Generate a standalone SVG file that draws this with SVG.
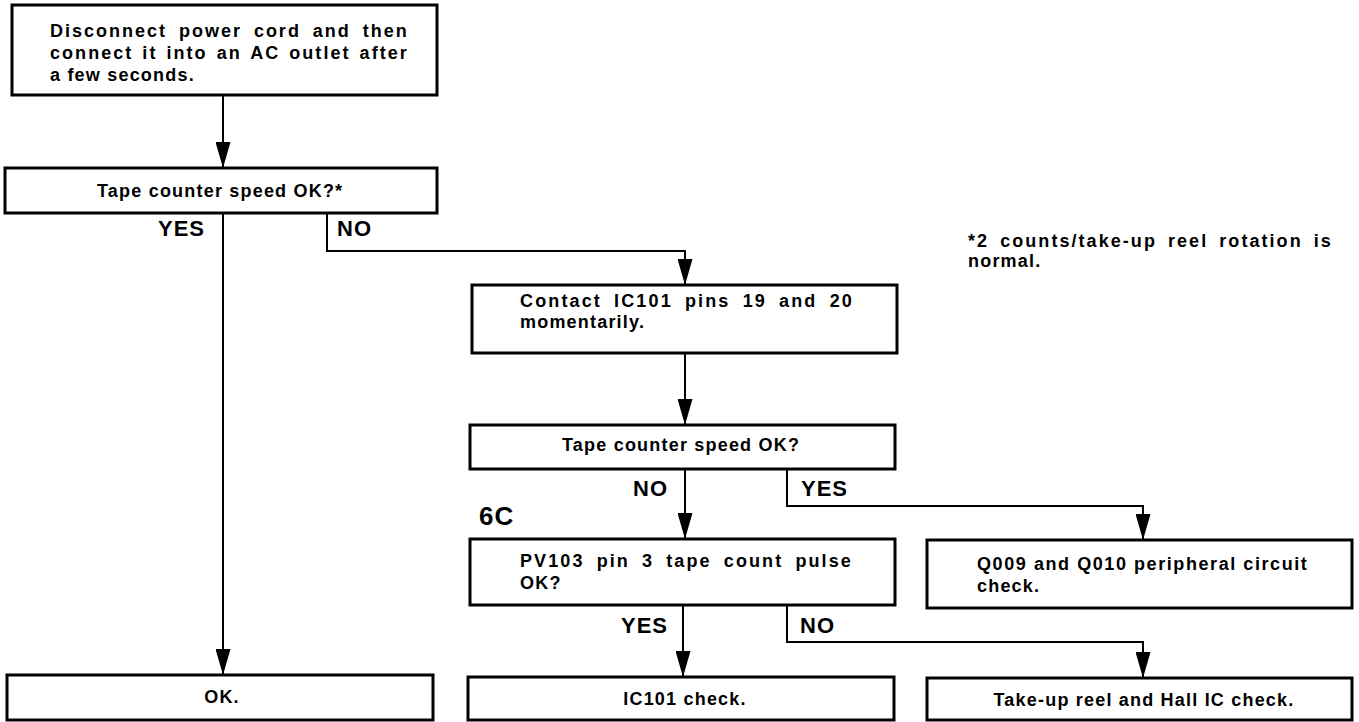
<svg xmlns="http://www.w3.org/2000/svg" width="1359" height="722" viewBox="0 0 1359 722">
  <style>
    .box { fill: #fff; stroke: #000; stroke-width: 3; }
    .wire { fill: none; stroke: #000; stroke-width: 2; }
    text { font-family: "Liberation Sans", Arial, sans-serif; font-weight: bold; fill: #000; }
    .t { font-size: 18px; letter-spacing: 1.2px; }
    .lbl { font-size: 22px; letter-spacing: 1px; }
    .ref { font-size: 26px; letter-spacing: 1px; }
  </style>
  <defs>
    <marker id="arrow" viewBox="0 0 26 15" markerUnits="userSpaceOnUse" markerWidth="26" markerHeight="15" refX="26" refY="7.5" orient="auto">
      <path d="M0,0 L26,7.5 L0,15 Z" fill="#000"/>
    </marker>
  </defs>
  <rect width="1359" height="722" fill="#fff"/>

  <!-- connectors -->
  <g id="connectors">
    <path class="wire" d="M223,95 V168" marker-end="url(#arrow)"/>
    <path class="wire" d="M223,213 V675" marker-end="url(#arrow)"/>
    <path class="wire" d="M327,213 V251 H685 V285" marker-end="url(#arrow)"/>
    <path class="wire" d="M685,353 V425" marker-end="url(#arrow)"/>
    <path class="wire" d="M685,469 V539" marker-end="url(#arrow)"/>
    <path class="wire" d="M787,469 V506 H1143 V540" marker-end="url(#arrow)"/>
    <path class="wire" d="M683,605 V677" marker-end="url(#arrow)"/>
    <path class="wire" d="M787,605 V642 H1143 V678" marker-end="url(#arrow)"/>
  </g>

  <!-- branch labels -->
  <g id="labels">
    <text class="lbl" x="205" y="236" text-anchor="end">YES</text>
    <text class="lbl" x="337" y="236">NO</text>
    <text class="lbl" x="668" y="496" text-anchor="end">NO</text>
    <text class="lbl" x="801" y="496">YES</text>
    <text class="ref" x="479" y="525">6C</text>
    <text class="lbl" x="668" y="633" text-anchor="end">YES</text>
    <text class="lbl" x="800" y="633">NO</text>
  </g>

  <g id="n-reconnect">
    <rect class="box" x="12" y="5" width="425" height="90"/>
    <text class="t" x="50" y="37" word-spacing="5" textLength="358" lengthAdjust="spacing">Disconnect power cord and then</text>
    <text class="t" x="50" y="59" word-spacing="2" textLength="358" lengthAdjust="spacing">connect it into an AC outlet after</text>
    <text class="t" x="50" y="81">a few seconds.</text>
  </g>

  <g id="n-speed1">
    <rect class="box" x="5" y="168" width="432" height="45"/>
    <text class="t" x="97" y="197">Tape counter speed OK?*</text>
  </g>

  <g id="n-contact">
    <rect class="box" x="472" y="285" width="425" height="68"/>
    <text class="t" x="520" y="307" word-spacing="5" textLength="333" lengthAdjust="spacing">Contact IC101 pins 19 and 20</text>
    <text class="t" x="520" y="328">momentarily.</text>
  </g>

  <g id="n-speed2">
    <rect class="box" x="470" y="425" width="425" height="44"/>
    <text class="t" x="562" y="451">Tape counter speed OK?</text>
  </g>

  <g id="n-pulse">
    <rect class="box" x="470" y="539" width="425" height="66"/>
    <text class="t" x="520" y="567" word-spacing="5" textLength="332" lengthAdjust="spacing">PV103 pin 3 tape count pulse</text>
    <text class="t" x="520" y="589">OK?</text>
  </g>

  <g id="n-q009">
    <rect class="box" x="927" y="540" width="425" height="68"/>
    <text class="t" x="977" y="570" textLength="331" lengthAdjust="spacing">Q009 and Q010 peripheral circuit</text>
    <text class="t" x="977" y="592">check.</text>
  </g>

  <g id="n-ok">
    <rect class="box" x="7" y="675" width="426" height="45"/>
    <text class="t" x="222" y="703" text-anchor="middle">OK.</text>
  </g>

  <g id="n-ic101">
    <rect class="box" x="468" y="677" width="426" height="43"/>
    <text class="t" x="685" y="705" text-anchor="middle">IC101 check.</text>
  </g>

  <g id="n-hall">
    <rect class="box" x="927" y="678" width="425" height="42"/>
    <text class="t" x="1144" y="706" text-anchor="middle">Take-up reel and Hall IC check.</text>
  </g>

  <!-- footnote -->
  <g id="note">
    <text class="t" x="968" y="247" word-spacing="4" textLength="364" lengthAdjust="spacing">*2 counts/take-up reel rotation is</text>
    <text class="t" x="968" y="267">normal.</text>
  </g>
</svg>
